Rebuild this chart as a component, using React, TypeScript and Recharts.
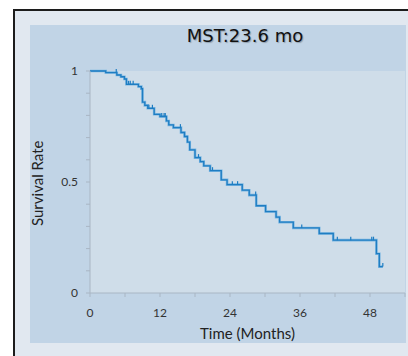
import React from 'react';
import { ComposedChart, Line, Scatter, XAxis, YAxis, CartesianGrid, Label } from 'recharts';

const months = [0, 2.7, 4.6, 5.3, 5.9, 6.25, 8.3, 8.8, 9.0, 9.4, 9.9, 11.0, 12.0, 13.1, 13.5, 14.3, 15.6, 16.2, 16.7, 17.1, 18.0, 18.9, 19.5, 20.6, 22.5, 23.5, 26.1, 27.3, 28.5, 30.1, 31.9, 32.5, 34.85, 39.3, 41.7, 49.1, 49.6, 50.2];
const survival = [1, 0.993, 0.982, 0.974, 0.964, 0.94, 0.93, 0.92, 0.86, 0.845, 0.832, 0.805, 0.795, 0.775, 0.757, 0.745, 0.723, 0.705, 0.68, 0.645, 0.61, 0.592, 0.573, 0.551, 0.51, 0.488, 0.463, 0.441, 0.393, 0.367, 0.342, 0.319, 0.293, 0.268, 0.238, 0.177, 0.119, 0.119];

const censorMonths = [4.5, 6.6, 6.9, 7.4, 10.1, 10.7, 12.3, 12.7, 12.9, 15.5, 18.6, 21.0, 24.4, 25.3, 28.4, 36.3, 42.4, 44.7, 48.3, 48.6, 50.2];
const censorSurvival = [0.993, 0.94, 0.94, 0.94, 0.832, 0.832, 0.795, 0.795, 0.795, 0.745, 0.61, 0.551, 0.488, 0.488, 0.441, 0.293, 0.238, 0.238, 0.238, 0.238, 0.119];

const xTicks = [0, 6, 12, 18, 24, 30, 36, 42, 48, 54];
const xLabelTicks = [0, 12, 24, 36, 48];
const yTicks = [0, 0.1, 0.2, 0.3, 0.4, 0.5, 0.6, 0.7, 0.8, 0.9, 1];
const yLabelTicks = [0, 0.5, 1];

const curve = months.map((t, i) => ({ t, s: survival[i] }));
const censors = censorMonths.map((t, i) => ({ t, s: censorSurvival[i] }));

const FONT = 'Lato, "Open Sans", sans-serif';

const CensorMark = (props: any) => {
  const { cx, cy } = props;
  if (cx == null || cy == null) return null;
  return <line x1={cx} x2={cx} y1={cy - 3.5} y2={cy} stroke="#1f7dc2" strokeWidth={1.2} />;
};

export default function App() {
  return (
    <div style={{ position: 'fixed', left: 0, top: 0, width: 408, height: 356, overflow: 'hidden', background: '#ffffff' }}>
      <div style={{ position: 'absolute', left: 13, top: 9, width: 420, height: 400, border: '2px solid #1c1c1c', background: '#e1e8f0', boxSizing: 'border-box' }} />
      <div style={{ position: 'absolute', left: 30, top: 25, width: 376, height: 318, background: '#c1d4e6' }}>
        <ComposedChart width={376} height={318} data={curve} margin={{ top: 46, right: 1, bottom: 0, left: 0 }}>
          <CartesianGrid horizontal={false} vertical={false} fill="#cfdde9" stroke="none" />
          <XAxis
            type="number"
            dataKey="t"
            domain={[0, 54]}
            ticks={xTicks}
            interval={0}
            height={50}
            tickSize={4}
            tickMargin={11}
            stroke="#a9b6c4"
            tick={{ fill: '#333', fontSize: 12, fontFamily: FONT }}
            tickFormatter={(v: number) => (xLabelTicks.includes(v) ? String(v) : '')}
          >
            <Label value="Time (Months)" position="insideBottom" offset={4} style={{ fill: '#222', fontSize: 15, fontFamily: FONT }} />
          </XAxis>
          <YAxis
            type="number"
            domain={[0, 1]}
            ticks={yTicks}
            interval={0}
            width={60}
            tickSize={4}
            tickMargin={8}
            stroke="#a9b6c4"
            tick={{ fill: '#333', fontSize: 12, fontFamily: FONT }}
            tickFormatter={(v: number) => (yLabelTicks.includes(v) ? String(v) : '')}
          />
          <Line type="stepAfter" dataKey="s" stroke="#7ab6e2" strokeWidth={2.6} dot={false} isAnimationActive={false} />
          <Line type="stepAfter" dataKey="s" stroke="#1f7dc2" strokeWidth={1.3} dot={false} isAnimationActive={false} />
          <Scatter data={censors} dataKey="s" shape={<CensorMark />} isAnimationActive={false} />
        </ComposedChart>
      </div>
      <div style={{ position: 'absolute', left: 28, top: 133, width: 18, height: 100, display: 'flex', alignItems: 'center', justifyContent: 'center', writingMode: 'vertical-rl', transform: 'rotate(180deg)', fontFamily: FONT, fontSize: 15, color: '#222', whiteSpace: 'nowrap' }}>
        Survival Rate
      </div>
      <div style={{ position: 'absolute', left: 145, top: 26, width: 200, textAlign: 'center', fontFamily: '"DejaVu Sans", sans-serif', fontSize: 18, lineHeight: '20px', color: '#111', textShadow: '1px 1px 1px rgba(0,0,0,0.25)' }}>
        MST:23.6 mo
      </div>
    </div>
  );
}
